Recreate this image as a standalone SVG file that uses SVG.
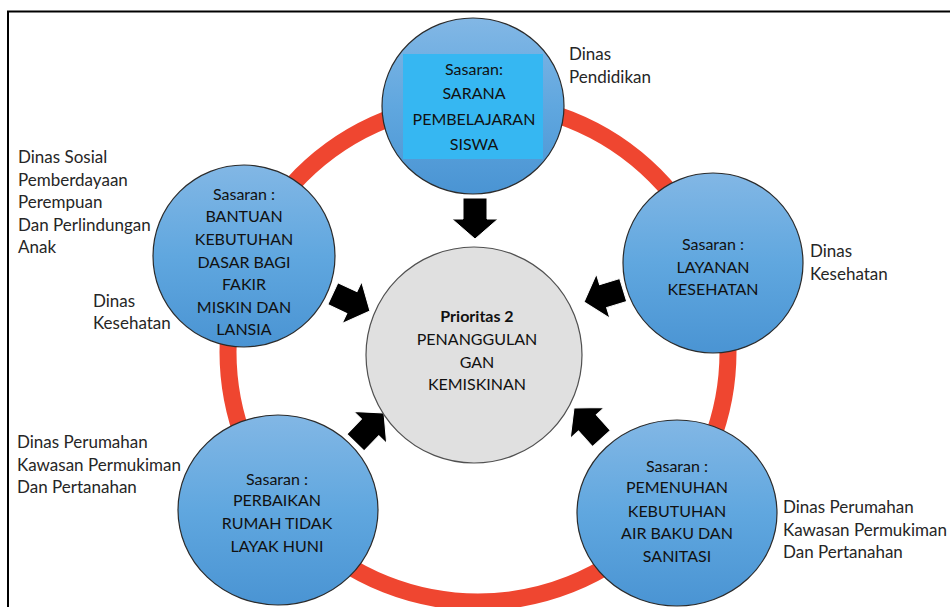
<svg xmlns="http://www.w3.org/2000/svg" width="950" height="607" viewBox="0 0 950 607">
  <defs>
    <linearGradient id="blueGrad" x1="0" y1="0" x2="0" y2="1">
      <stop offset="0" stop-color="#82B7E5"/>
      <stop offset="0.5" stop-color="#60A7DF"/>
      <stop offset="1" stop-color="#4A94D3"/>
    </linearGradient>
    <polygon id="arrow" points="-41,-12 -20,-12 -20,-23 0,0 -20,23 -20,12 -41,12"/>
  </defs>
  <style>
    .goal { fill: url(#blueGrad); stroke: #2b2b2b; stroke-width: 1.2; }
    .core { fill: #E0E0E0; stroke: #505050; stroke-width: 1.2; }
    .ring { fill: none; stroke: #EF4630; stroke-width: 17; }
    .arr { fill: #000; stroke: #fff; stroke-width: 1; }
    text { font-family: Lato, "Liberation Sans", sans-serif; font-size: 16px; fill: #111; }
    .c { text-anchor: middle; }
    .lbl { fill: #262626; font-size: 17px; }
    .b { font-weight: bold; }
  </style>
  <rect width="950" height="607" fill="#fff"/>
  <path d="M8,607 V11.5 H950" fill="none" stroke="#000" stroke-width="2"/>

  <g id="ring">
    <circle class="ring" cx="478" cy="352" r="250"/>
  </g>

  <g id="node-sarana">
    <ellipse class="goal" cx="473" cy="106" rx="91" ry="88"/>
    <rect x="403" y="54" width="140" height="105" fill="#36B7F2"/>
    <text class="c" x="474" y="75">Sasaran:</text>
    <text class="c" x="474" y="99">SARANA</text>
    <text class="c" x="474" y="125">PEMBELAJARAN</text>
    <text class="c" x="474" y="150">SISWA</text>
  </g>

  <g id="node-bantuan">
    <circle class="goal" cx="244" cy="256" r="91"/>
    <text class="c" x="244" y="200">Sasaran :</text>
    <text class="c" x="244" y="222">BANTUAN</text>
    <text class="c" x="244" y="245">KEBUTUHAN</text>
    <text class="c" x="244" y="268">DASAR BAGI</text>
    <text class="c" x="244" y="290">FAKIR</text>
    <text class="c" x="244" y="313">MISKIN DAN</text>
    <text class="c" x="244" y="335">LANSIA</text>
  </g>

  <g id="node-layanan">
    <circle class="goal" cx="713" cy="263" r="90"/>
    <text class="c" x="713" y="250">Sasaran :</text>
    <text class="c" x="713" y="273">LAYANAN</text>
    <text class="c" x="713" y="295">KESEHATAN</text>
  </g>

  <g id="node-perbaikan">
    <ellipse class="goal" cx="278" cy="510" rx="100" ry="95"/>
    <text class="c" x="277" y="485">Sasaran :</text>
    <text class="c" x="277" y="506">PERBAIKAN</text>
    <text class="c" x="277" y="529">RUMAH TIDAK</text>
    <text class="c" x="277" y="552">LAYAK HUNI</text>
  </g>

  <g id="node-pemenuhan">
    <ellipse class="goal" cx="677" cy="513" rx="100" ry="93"/>
    <text class="c" x="677" y="472">Sasaran :</text>
    <text class="c" x="677" y="493">PEMENUHAN</text>
    <text class="c" x="677" y="517">KEBUTUHAN</text>
    <text class="c" x="677" y="539">AIR BAKU DAN</text>
    <text class="c" x="677" y="562">SANITASI</text>
  </g>

  <g id="connectors">
    <use href="#arrow" class="arr" transform="translate(475,239) rotate(90)"/>
    <use href="#arrow" class="arr" transform="translate(370,311) rotate(25)"/>
    <use href="#arrow" class="arr" transform="translate(584,302) rotate(163)"/>
    <use href="#arrow" class="arr" transform="translate(384,413) rotate(-46)"/>
    <use href="#arrow" class="arr" transform="translate(574,408) rotate(228)"/>
  </g>

  <g id="node-prioritas">
    <circle class="core" cx="474" cy="355" r="108"/>
    <text class="c b" x="477" y="322">Prioritas 2</text>
    <text class="c" x="477" y="345">PENANGGULAN</text>
    <text class="c" x="477" y="368">GAN</text>
    <text class="c" x="477" y="390">KEMISKINAN</text>
  </g>

  <g id="labels">
    <text class="lbl" x="569" y="60">Dinas</text>
    <text class="lbl" x="569" y="83">Pendidikan</text>
    <text class="lbl" x="18" y="163">Dinas Sosial</text>
    <text class="lbl" x="18" y="186">Pemberdayaan</text>
    <text class="lbl" x="18" y="208">Perempuan</text>
    <text class="lbl" x="18" y="231">Dan Perlindungan</text>
    <text class="lbl" x="18" y="253">Anak</text>
    <text class="lbl" x="93" y="307">Dinas</text>
    <text class="lbl" x="93" y="329">Kesehatan</text>
    <text class="lbl" x="810" y="257">Dinas</text>
    <text class="lbl" x="810" y="280">Kesehatan</text>
    <text class="lbl" x="17" y="448">Dinas Perumahan</text>
    <text class="lbl" x="17" y="471">Kawasan Permukiman</text>
    <text class="lbl" x="17" y="493">Dan Pertanahan</text>
    <text class="lbl" x="783" y="513">Dinas Perumahan</text>
    <text class="lbl" x="783" y="536">Kawasan Permukiman</text>
    <text class="lbl" x="783" y="558">Dan Pertanahan</text>
  </g>
</svg>
